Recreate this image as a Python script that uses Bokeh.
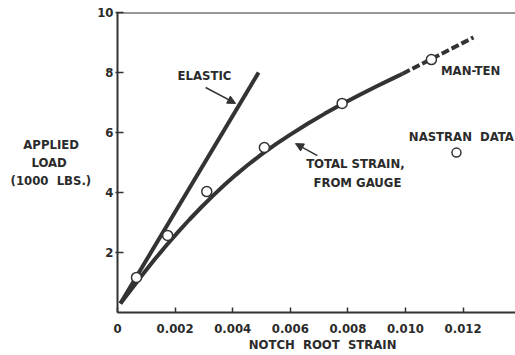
from bokeh.plotting import figure
from bokeh.models import Range1d, FixedTicker, Label, Arrow, NormalHead, Span
from bokeh.embed import file_html
from bokeh.resources import INLINE

# ---- data ----
elastic_strain = [0.0001, 0.0049]
elastic_load = [0.3, 8.0]

gauge_strain = [0.0001, 0.0005, 0.0009, 0.0013, 0.0017, 0.0021, 0.0025, 0.0029,
                0.0033, 0.0037, 0.0041, 0.0045, 0.0050, 0.0055, 0.0060, 0.0066,
                0.0072, 0.0078, 0.0084, 0.0090, 0.0096, 0.0099]
gauge_load = [0.3, 0.8, 1.3, 1.78, 2.24, 2.68, 3.1, 3.5, 3.88, 4.24, 4.58, 4.9,
              5.27, 5.61, 5.93, 6.29, 6.63, 6.95, 7.25, 7.54, 7.82, 7.96]

manten_strain = [0.0099, 0.0109, 0.01236]
manten_load = [7.96, 8.45, 9.17]

nastran_strain = [0.00066, 0.00174, 0.0031, 0.0051, 0.0078, 0.0109]
nastran_load = [1.17, 2.57, 4.03, 5.5, 6.97, 8.43]

legend_strain = [0.01177]
legend_load = [5.33]

x_ticks = [0, 0.002, 0.004, 0.006, 0.008, 0.010, 0.012]
x_tick_labels = ["0", "0.002", "0.004", "0.006", "0.008", "0.010", "0.012"]
y_ticks = [2, 4, 6, 8, 10]
y_tick_labels = ["2", "4", "6", "8", "10"]

NB = "\u00a0"
FONT = "'Liberation Sans Narrow', 'DejaVu Sans Condensed', 'Liberation Sans', sans-serif"
INK = "#2b2b2b"
LINE = "#333333"

p = figure(width=515, height=355, output_backend="svg", toolbar_location=None,
           x_range=Range1d(0, 0.01382), y_range=Range1d(0, 10),
           min_border_left=117, min_border_top=12, min_border_bottom=43,
           min_border_right=0)
p.outline_line_color = None
p.grid.visible = False
p.background_fill_color = "white"
p.border_fill_color = "white"

for ax in (p.xaxis[0], p.yaxis[0]):
    ax.axis_line_color = LINE
    ax.axis_line_width = 2
    ax.major_tick_line_color = LINE
    ax.major_tick_line_width = 1.5
    ax.minor_tick_line_color = None
    ax.major_label_text_font = FONT
    ax.major_label_text_font_style = "bold"
    ax.major_label_text_font_size = "13px"
    ax.major_label_text_color = INK
    ax.axis_label_text_font = FONT
    ax.axis_label_text_font_style = "bold"
    ax.axis_label_text_color = INK

p.xaxis.ticker = FixedTicker(ticks=x_ticks)
p.xaxis.major_label_overrides = {t: l for t, l in zip(x_ticks, x_tick_labels)}
p.xaxis.major_tick_in = 5
p.xaxis.major_tick_out = 0
p.xaxis.major_label_standoff = 11
p.xaxis.axis_label = NB * 3 + "NOTCH" + NB * 2 + "ROOT" + NB * 2 + "STRAIN"
p.xaxis.axis_label_text_font_size = "13px"
p.xaxis.axis_label_standoff = 1

p.yaxis.ticker = FixedTicker(ticks=y_ticks)
p.yaxis.major_label_overrides = {t: l for t, l in zip(y_ticks, y_tick_labels)}
p.yaxis.major_tick_in = 6
p.yaxis.major_tick_out = 2
p.yaxis.major_label_standoff = 2
p.yaxis.axis_label = ("APPLIED" + NB * 3 + "\n" + "LOAD" + NB * 6 + "\n"
                      + "(1000" + NB * 2 + "LBS.)")
p.yaxis.axis_label_orientation = "horizontal"
p.yaxis.axis_label_text_font_size = "13px"
p.yaxis.axis_label_standoff = 3

p.add_layout(Span(location=10, dimension="width", line_color=LINE, line_width=2))

# curves
p.line(elastic_strain, elastic_load, line_color=LINE, line_width=4)
p.line(gauge_strain, gauge_load, line_color=LINE, line_width=4, line_join="round")
p.line(manten_strain, manten_load, line_color=LINE, line_width=4, line_dash="8 3")
p.scatter(nastran_strain, nastran_load, marker="circle", size=10,
          line_color=LINE, line_width=1.5, fill_color="white")
p.scatter(legend_strain, legend_load, marker="circle", size=9,
          line_color=LINE, line_width=1.5, fill_color="white")

def lab(x, y, t, size="13px", align="center"):
    p.add_layout(Label(x=x, y=y, text=t, text_align=align, text_baseline="middle",
                       text_font=FONT, text_font_style="bold",
                       text_font_size=size, text_color=INK))

lab(0.00302, 7.9, "ELASTIC")
lab(0.00826, 4.97, "TOTAL STRAIN,")
lab(0.00833, 4.33, "FROM GAUGE")
lab(0.01226, 8.07, "MAN-TEN")
lab(0.01194, 5.87, "NASTRAN" + NB * 2 + "DATA")

head = dict(size=8, fill_color=LINE, line_color=LINE)
p.add_layout(Arrow(end=NormalHead(**head), x_start=0.00306, y_start=7.5,
                   x_end=0.0041, y_end=6.97, line_color=LINE, line_width=1.5))
p.add_layout(Arrow(end=NormalHead(**head), x_start=0.00694, y_start=5.23,
                   x_end=0.00618, y_end=5.63, line_color=LINE, line_width=1.5))

open("out.html", "w").write(file_html(p, INLINE))
